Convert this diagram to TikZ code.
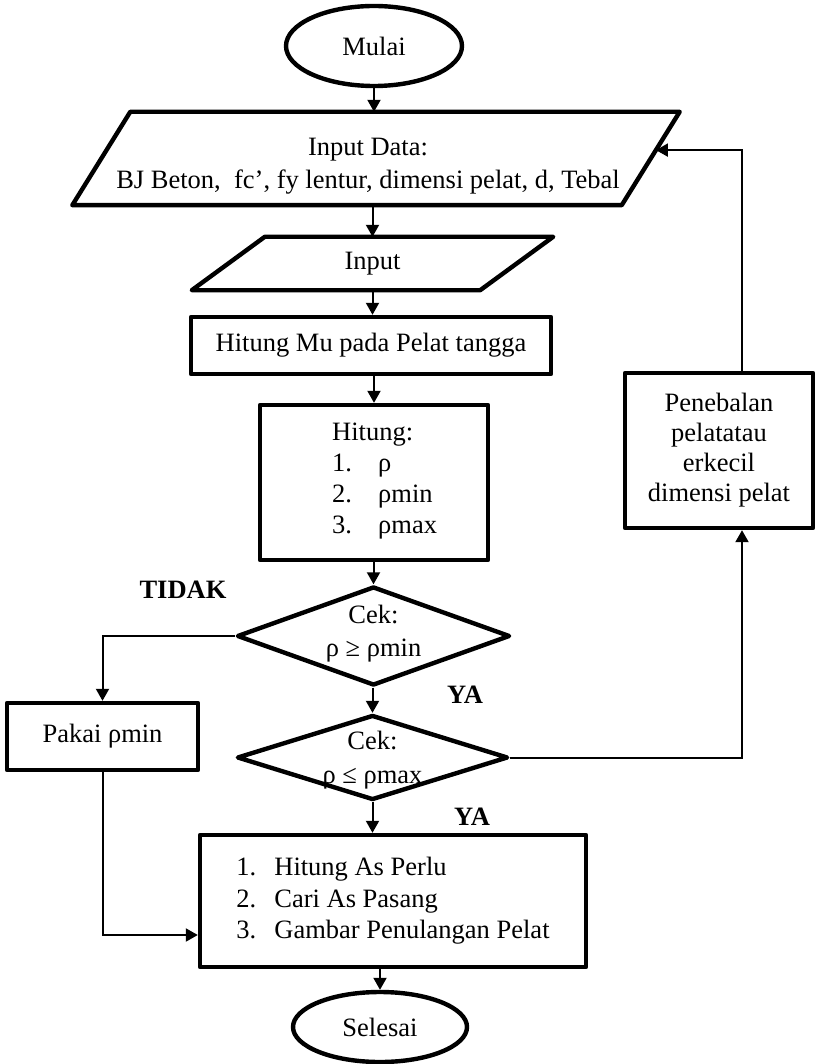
\documentclass[tikz,border=0pt]{standalone}
\usepackage{fontspec}
\setmainfont{Liberation Serif}
\usetikzlibrary{shapes.geometric,arrows.meta,calc}
\begin{document}
\begin{tikzpicture}[x=1pt,y=-1pt,
  every node/.style={font=\fontsize{26.5}{31}\selectfont},
  shp/.style={draw, line width=4.4pt, line join=round},
  boxnode/.style={shp, rectangle, inner sep=0pt},
  term/.style={shp, ellipse, inner sep=0pt, minimum width=176pt, minimum height=80pt},
  decide/.style={shp, diamond, inner sep=0pt},
  pgram/.style={rectangle, inner sep=0pt},
  txt/.style={inner sep=0pt, align=center},
  tag/.style={inner sep=0pt, font=\fontsize{26.5}{31}\selectfont\bfseries},
  conn/.style={line width=2pt, -{Triangle[length=12pt,width=13pt]}}
]
\useasboundingbox (0,0) rectangle (816,1064);

% start
\node[term] (mulai) at (374,46) {Mulai};

% input data (parallelogram drawn around an invisible frame node)
\node[pgram, minimum width=549pt, minimum height=93pt] (data) at (376,158.5) {};
\draw[shp] ([xshift=29pt]data.north west) -- ([xshift=29pt]data.north east)
  -- ([xshift=-29pt]data.south east) -- ([xshift=-29pt]data.south west) -- cycle;
\node[txt, font=\fontsize{26.5}{33}\selectfont] (datatxt) at (368,166.5)
  {Input Data:\\BJ Beton, \ fc’, fy lentur, dimensi pelat, d, Tebal};
\coordinate (fb) at ($([xshift=29pt]data.north east)!0.41!([xshift=-29pt]data.south east)$);

% input
\node[pgram, minimum width=288pt, minimum height=53pt] (inp) at (372.5,263.5) {Input};
\draw[shp] ([xshift=36.5pt]inp.north west) -- ([xshift=36.5pt]inp.north east)
  -- ([xshift=-36.5pt]inp.south east) -- ([xshift=-36.5pt]inp.south west) -- cycle;

% process boxes
\node[boxnode, minimum width=360pt, minimum height=57pt] (mu) at (371,345.5) {Hitung Mu pada Pelat tangga};
\node[boxnode, minimum width=228pt, minimum height=155pt] (hit) at (374,482.5) {};
\node[txt, align=left, anchor=west] (hittxt) at (332,481.5)
  {Hitung:\\\makebox[46pt][l]{1.}ρ\\\makebox[46pt][l]{2.}ρmin\\\makebox[46pt][l]{3.}ρmax};

% decisions
\node[decide, minimum width=273pt, minimum height=99pt,
  label={[txt, font=\fontsize{26.5}{33}\selectfont, yshift=2pt]center:{Cek:\\ρ ≥ ρmin}}] (c1) at (373.5,636) {};
\node[decide, minimum width=271pt, minimum height=85pt,
  label={[txt, font=\fontsize{26.5}{34}\selectfont, yshift=-3pt]center:{Cek:\\ρ ≤ ρmax}}] (c2) at (372.5,757.5) {};

\node[boxnode, minimum width=191pt, minimum height=67pt] (pakai) at (102.5,736.5) {Pakai ρmin};
\node[boxnode, minimum width=188pt, minimum height=155pt, align=center,
  font=\fontsize{26.5}{30}\selectfont] (pen) at (719,450.5)
  {Penebalan\\pelatatau\\erkecil\\dimensi pelat};
\node[boxnode, minimum width=386pt, minimum height=132pt, align=left,
  font=\fontsize{26.5}{31.5}\selectfont] (out) at (393,901)
  {\makebox[38pt][l]{1.}Hitung As Perlu\\\makebox[38pt][l]{2.}Cari As Pasang\\\makebox[38pt][l]{3.}Gambar Penulangan Pelat};

% end
\node[term, minimum width=174pt, minimum height=70pt] (sel) at (380,1027) {Selesai};

% branch labels
\node[tag] (tidak) at (183,590) {TIDAK};
\node[tag] (ya1) at (465,695) {YA};
\node[tag] (ya2) at (472,817) {YA};

% connectors
\draw[conn] (mulai.south) -- (mulai.south |- data.north);
\draw[conn] (inp.north |- data.south) -- (inp.north);
\draw[conn] (inp.south) -- (inp.south |- mu.north);
\draw[conn] (mu.south -| hit.north) -- (hit.north);
\draw[conn] (c1.north |- hit.south) -- (c1.north);
\draw[conn] (c1.west) -| (pakai.north);
\draw[conn] (c2.north |- c1.south) -- (c2.north);
\draw[conn] (c2.east) -| ([xshift=23pt]pen.south);
\draw[conn] ([xshift=23pt]pen.north) |- (fb);
\draw[conn] (c2.south) -- (c2.south |- out.north);
\draw[conn] (pakai.south) |- ([yshift=-34pt]out.west);
\draw[conn] (sel.north |- out.south) -- (sel.north);
\end{tikzpicture}
\end{document}
